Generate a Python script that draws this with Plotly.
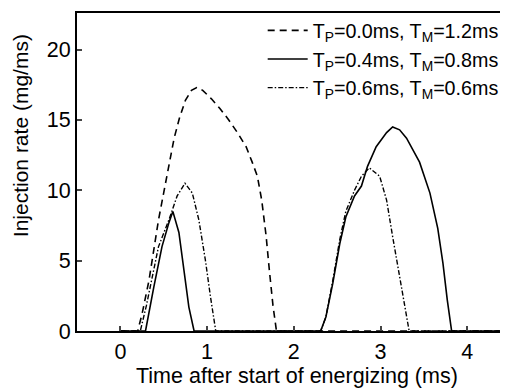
import plotly.graph_objects as go

# Time after start of energizing (ms) and injection rate (mg/ms)
t_p00 = [0.00, 0.20, 0.25, 0.33, 0.44, 0.54, 0.62, 0.68, 0.75, 0.82, 0.88, 0.95, 1.05, 1.15,
         1.25, 1.35, 1.45, 1.52, 1.58, 1.63, 1.68, 1.72, 1.76, 1.80, 4.40]
r_p00 = [0.0, 0.0, 1.2, 3.6, 7.9, 11.2, 13.7, 15.1, 16.4, 17.1, 17.3, 17.1, 16.5, 15.8,
         15.0, 14.1, 13.1, 12.0, 11.0, 9.3, 6.8, 4.2, 1.8, 0.0, 0.0]

t_p04 = [0.00, 0.29, 0.385, 0.48, 0.56, 0.605, 0.675, 0.73, 0.79, 0.85,
         2.31, 2.37, 2.45, 2.53, 2.60, 2.70, 2.78, 2.85, 2.95, 3.07, 3.14, 3.22, 3.30,
         3.45, 3.57, 3.66, 3.72, 3.77, 3.82, 4.40]
r_p04 = [0.0, 0.0, 3.1, 6.0, 7.7, 8.5, 7.0, 4.3, 1.7, 0.0,
         0.0, 1.0, 3.4, 6.2, 8.1, 9.6, 10.3, 11.7, 13.1, 14.1, 14.5, 14.3, 13.7,
         12.0, 9.8, 7.3, 4.8, 2.2, 0.0, 0.0]

t_p06 = [0.00, 0.23, 0.30, 0.44, 0.56, 0.655, 0.745, 0.83, 0.905, 0.98, 1.04, 1.10,
         2.31, 2.37, 2.45, 2.53, 2.60, 2.70, 2.78, 2.87, 2.99, 3.07, 3.14, 3.22, 3.28, 3.33, 4.40]
r_p06 = [0.0, 0.0, 1.8, 6.0, 7.9, 9.6, 10.5, 9.8, 7.9, 5.05, 2.4, 0.0,
         0.0, 1.0, 3.6, 6.5, 8.5, 10.0, 11.0, 11.6, 11.0, 9.3, 6.7, 3.9, 1.5, 0.0, 0.0]

names = ["T<sub>P</sub>=0.0ms, T<sub>M</sub>=1.2ms",
         "T<sub>P</sub>=0.4ms, T<sub>M</sub>=0.8ms",
         "T<sub>P</sub>=0.6ms, T<sub>M</sub>=0.6ms"]
x_ticks = [0, 1, 2, 3, 4]
y_ticks = [0, 5, 10, 15, 20]

FONT = "Arial, Liberation Sans, sans-serif"

fig = go.Figure()
fig.add_trace(go.Scatter(x=t_p00, y=r_p00, mode="lines", name=names[0],
                         line=dict(color="black", width=1.6, dash="7px,5px")))
fig.add_trace(go.Scatter(x=t_p04, y=r_p04, mode="lines", name=names[1],
                         line=dict(color="black", width=1.6)))
fig.add_trace(go.Scatter(x=t_p06, y=r_p06, mode="lines", name=names[2],
                         line=dict(color="black", width=1.4, dash="5px,2px,1.5px,2px")))

# page body has an 8px margin, so the figure is placed at (8, 8)
fig.update_layout(
    width=500, height=382,
    margin=dict(l=69, r=0, t=5, b=59),
    paper_bgcolor="white", plot_bgcolor="white",
    font=dict(family=FONT, size=21, color="black"),
    showlegend=True,
    legend=dict(x=0.99, y=1.006, xanchor="right", yanchor="top",
                bgcolor="rgba(0,0,0,0)", font=dict(size=19.7),
                itemwidth=40, tracegroupgap=0),
    xaxis=dict(range=[-0.5, 4.47], tickvals=x_ticks, ticks="inside", ticklen=5,
               tickwidth=1.5, showline=True, linecolor="black", linewidth=2,
               mirror=True, showgrid=False, zeroline=False,
               tickfont=dict(size=21.5)),
    yaxis=dict(range=[0, 22.6], tickvals=y_ticks, ticks="inside", ticklen=5,
               tickwidth=1.5, showline=True, linecolor="black", linewidth=2,
               showgrid=False, zeroline=False, tickfont=dict(size=21.5)),
    annotations=[
        dict(text="Time after start of energizing (ms)", xref="paper", yref="paper",
             x=0.51, y=-0.142, xanchor="center", yanchor="middle", showarrow=False,
             font=dict(size=21.5)),
        dict(text="Injection rate (mg/ms)", xref="paper", yref="paper",
             x=-0.132, y=0.613, xanchor="center", yanchor="middle", textangle=-90,
             showarrow=False, font=dict(size=21)),
    ],
)

fig.write_html("out.html")
